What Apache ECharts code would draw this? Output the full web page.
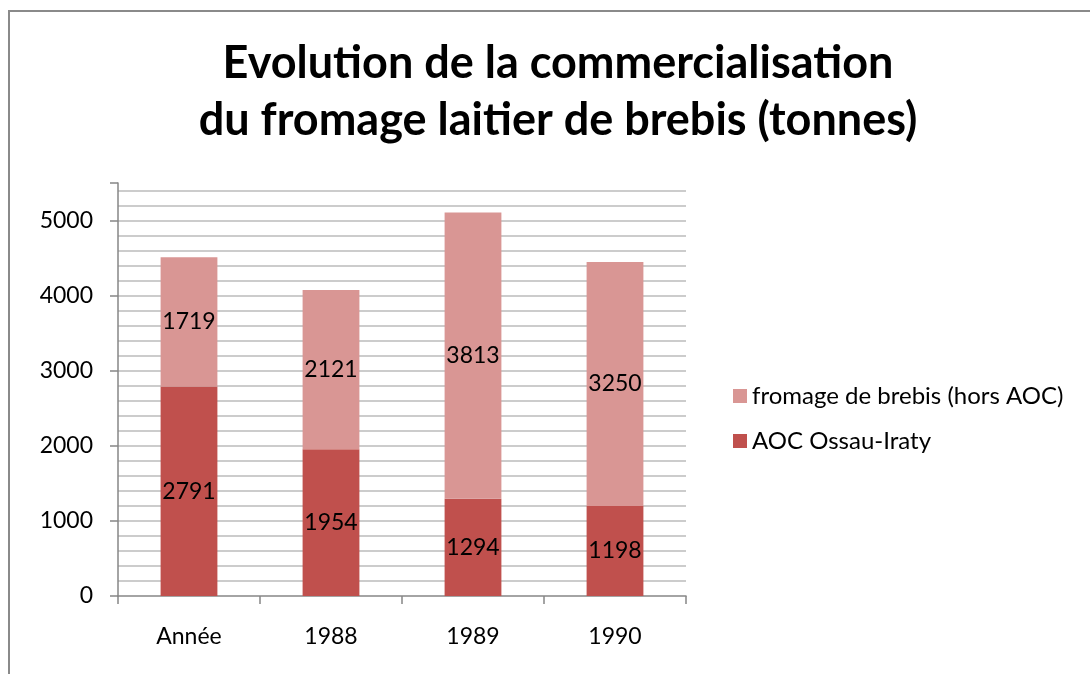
<!DOCTYPE html>
<html>
<head>
<meta charset="utf-8">
<script src="https://cdn.jsdelivr.net/npm/echarts@6/dist/echarts.min.js"></script>
<style>
html,body{margin:0;padding:0;background:#fff;}
#chart{width:1090px;height:674px;}
</style>
</head>
<body>
<div id="chart"></div>
<script>
const categories = ['Année', '1988', '1989', '1990'];
const aocOssauIraty = [2791, 1954, 1294, 1198];
const horsAOC = [1719, 2121, 3813, 3250];
const seriesNames = ['fromage de brebis (hors AOC)', 'AOC Ossau-Iraty'];
const titleText = 'Evolution de la commercialisation\ndu fromage laitier de brebis (tonnes)';

const FONT = 'Lato';
const chart = echarts.init(document.getElementById('chart'), null, {renderer: 'canvas'});
const labelStyle = {show: true, position: 'inside', color: '#000', fontSize: 23, fontFamily: FONT};

chart.setOption({
  animation: false,
  backgroundColor: '#fff',
  graphic: [{
    type: 'rect', silent: true,
    shape: {x: 9, y: 11, width: 1200, height: 800},
    style: {fill: 'none', stroke: '#8a8a8a', lineWidth: 2}
  }],
  title: {
    text: titleText,
    left: 553, top: 30, textAlign: 'center',
    textStyle: {fontFamily: FONT, fontWeight: 'bold', fontSize: 45, lineHeight: 57, color: '#000'}
  },
  legend: {
    orient: 'vertical', left: 728, top: 379,
    itemWidth: 14, itemHeight: 14, itemGap: 21, icon: 'rect',
    data: seriesNames,
    textStyle: {fontFamily: FONT, fontSize: 24, color: '#000'}
  },
  grid: {left: 118, right: 404, top: 183, bottom: 78, containLabel: false},
  xAxis: {
    type: 'category', data: categories, boundaryGap: true,
    axisLine: {lineStyle: {color: '#868686', width: 1.5}},
    axisTick: {show: true, length: 8, alignWithLabel: false, lineStyle: {color: '#868686', width: 1.5}},
    axisLabel: {color: '#000', fontSize: 23, fontFamily: FONT, margin: 29}
  },
  yAxis: [{
    type: 'value', min: 0, max: 5500, interval: 1000,
    axisLine: {show: true, lineStyle: {color: '#868686', width: 1.5}},
    axisTick: {show: true, length: 8, lineStyle: {color: '#868686', width: 1.5}},
    axisLabel: {color: '#000', fontSize: 23, fontFamily: FONT, margin: 25,
      formatter: v => (v % 1000 === 0 ? String(v) : '')},
    splitLine: {show: false}
  }, {
    type: 'value', min: 0, max: 5500, interval: 200, position: 'left',
    axisLine: {show: false}, axisTick: {show: false}, axisLabel: {show: false},
    splitLine: {show: true, showMinLine: false, showMaxLine: false, lineStyle: {color: '#BBBBBB', width: 1.5}}
  }],
  series: [{
    name: seriesNames[1], type: 'bar', stack: 'total', yAxisIndex: 0,
    data: aocOssauIraty, barWidth: '40%',
    itemStyle: {color: '#C0504D'}, label: labelStyle
  }, {
    name: seriesNames[0], type: 'bar', stack: 'total', yAxisIndex: 0,
    data: horsAOC, barWidth: '40%',
    itemStyle: {color: '#D99694'}, label: labelStyle
  }]
});
</script>
</body>
</html>
